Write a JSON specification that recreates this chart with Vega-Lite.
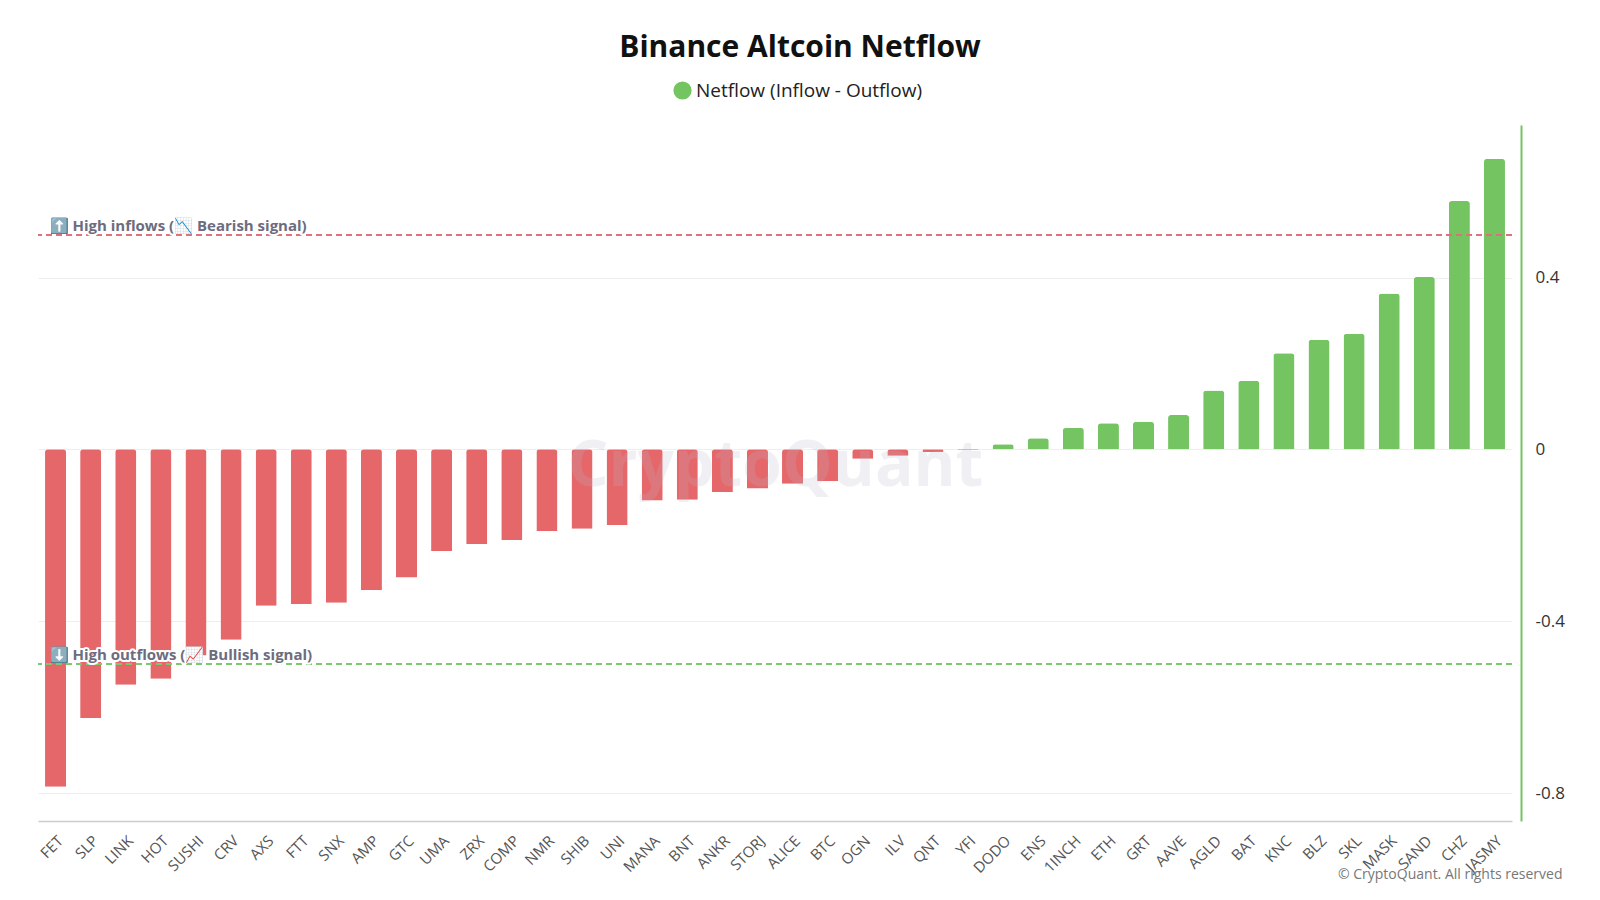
{
  "$schema": "https://vega.github.io/schema/vega-lite/v6.json",
  "autosize": "none",
  "width": 1474,
  "height": 696,
  "padding": {"left": 38, "top": 125, "right": 88, "bottom": 79},
  "background": "white",
  "config": {
    "font": "Open Sans",
    "view": {"stroke": null}
  },
  "title": {
    "text": "Binance Altcoin Netflow",
    "fontSize": 30,
    "fontWeight": "bold",
    "color": "#111111",
    "anchor": "middle",
    "dx": 25,
    "offset": 18
  },
  "data": {
    "values": [
      {"coin": "FET", "netflow": -0.785, "series": "Netflow (Inflow - Outflow)"},
      {"coin": "SLP", "netflow": -0.625, "series": "Netflow (Inflow - Outflow)"},
      {"coin": "LINK", "netflow": -0.548, "series": "Netflow (Inflow - Outflow)"},
      {"coin": "HOT", "netflow": -0.534, "series": "Netflow (Inflow - Outflow)"},
      {"coin": "SUSHI", "netflow": -0.48, "series": "Netflow (Inflow - Outflow)"},
      {"coin": "CRV", "netflow": -0.443, "series": "Netflow (Inflow - Outflow)"},
      {"coin": "AXS", "netflow": -0.364, "series": "Netflow (Inflow - Outflow)"},
      {"coin": "FTT", "netflow": -0.36, "series": "Netflow (Inflow - Outflow)"},
      {"coin": "SNX", "netflow": -0.357, "series": "Netflow (Inflow - Outflow)"},
      {"coin": "AMP", "netflow": -0.328, "series": "Netflow (Inflow - Outflow)"},
      {"coin": "GTC", "netflow": -0.298, "series": "Netflow (Inflow - Outflow)"},
      {"coin": "UMA", "netflow": -0.237, "series": "Netflow (Inflow - Outflow)"},
      {"coin": "ZRX", "netflow": -0.22, "series": "Netflow (Inflow - Outflow)"},
      {"coin": "COMP", "netflow": -0.211, "series": "Netflow (Inflow - Outflow)"},
      {"coin": "NMR", "netflow": -0.19, "series": "Netflow (Inflow - Outflow)"},
      {"coin": "SHIB", "netflow": -0.185, "series": "Netflow (Inflow - Outflow)"},
      {"coin": "UNI", "netflow": -0.176, "series": "Netflow (Inflow - Outflow)"},
      {"coin": "MANA", "netflow": -0.119, "series": "Netflow (Inflow - Outflow)"},
      {"coin": "BNT", "netflow": -0.117, "series": "Netflow (Inflow - Outflow)"},
      {"coin": "ANKR", "netflow": -0.1, "series": "Netflow (Inflow - Outflow)"},
      {"coin": "STORJ", "netflow": -0.091, "series": "Netflow (Inflow - Outflow)"},
      {"coin": "ALICE", "netflow": -0.08, "series": "Netflow (Inflow - Outflow)"},
      {"coin": "BTC", "netflow": -0.074, "series": "Netflow (Inflow - Outflow)"},
      {"coin": "OGN", "netflow": -0.022, "series": "Netflow (Inflow - Outflow)"},
      {"coin": "ILV", "netflow": -0.015, "series": "Netflow (Inflow - Outflow)"},
      {"coin": "QNT", "netflow": -0.006, "series": "Netflow (Inflow - Outflow)"},
      {"coin": "YFI", "netflow": -0.002, "series": "Netflow (Inflow - Outflow)"},
      {"coin": "DODO", "netflow": 0.012, "series": "Netflow (Inflow - Outflow)"},
      {"coin": "ENS", "netflow": 0.026, "series": "Netflow (Inflow - Outflow)"},
      {"coin": "1INCH", "netflow": 0.05, "series": "Netflow (Inflow - Outflow)"},
      {"coin": "ETH", "netflow": 0.061, "series": "Netflow (Inflow - Outflow)"},
      {"coin": "GRT", "netflow": 0.064, "series": "Netflow (Inflow - Outflow)"},
      {"coin": "AAVE", "netflow": 0.08, "series": "Netflow (Inflow - Outflow)"},
      {"coin": "AGLD", "netflow": 0.137, "series": "Netflow (Inflow - Outflow)"},
      {"coin": "BAT", "netflow": 0.16, "series": "Netflow (Inflow - Outflow)"},
      {"coin": "KNC", "netflow": 0.224, "series": "Netflow (Inflow - Outflow)"},
      {"coin": "BLZ", "netflow": 0.255, "series": "Netflow (Inflow - Outflow)"},
      {"coin": "SKL", "netflow": 0.269, "series": "Netflow (Inflow - Outflow)"},
      {"coin": "MASK", "netflow": 0.363, "series": "Netflow (Inflow - Outflow)"},
      {"coin": "SAND", "netflow": 0.401, "series": "Netflow (Inflow - Outflow)"},
      {"coin": "CHZ", "netflow": 0.578, "series": "Netflow (Inflow - Outflow)"},
      {"coin": "JASMY", "netflow": 0.676, "series": "Netflow (Inflow - Outflow)"}
    ]
  },
  "layer": [
    {
      "mark": {"type": "bar", "cornerRadiusEnd": 3},
      "encoding": {
        "x": {
          "field": "coin",
          "type": "nominal",
          "sort": null,
          "scale": {"paddingInner": 0.4, "paddingOuter": 0.2},
          "axis": {
            "title": "© CryptoQuant. All rights reserved",
            "titleFontSize": 14,
            "titleFontWeight": "normal",
            "titleColor": "#777777",
            "titleAnchor": "end",
            "titleAlign": "right",
            "titleX": 1524,
            "titleY": 46,
            "labelAngle": -45,
            "labelFontSize": 15,
            "labelColor": "#555555",
            "labelPadding": 12,
            "ticks": false,
            "domainColor": "#cccccc",
            "domainWidth": 1.5
          }
        },
        "y": {
          "field": "netflow",
          "type": "quantitative",
          "scale": {"domain": [-0.865, 0.755], "nice": false, "zero": false},
          "axis": {
            "orient": "right",
            "title": null,
            "values": [-0.8, -0.4, 0, 0.4],
            "labelExpr": "'' + datum.value",
            "labelFontSize": 17,
            "labelColor": "#333333",
            "labelPadding": 14,
            "ticks": false,
            "offset": 9,
            "domainColor": "#75c462",
            "domainWidth": 2,
            "gridColor": "#eeeeee"
          }
        },
        "color": {
          "condition": {"test": "datum.netflow < 0", "value": "#e5676a"},
          "field": "series",
          "type": "nominal",
          "scale": {"range": ["#75c462"]},
          "legend": {
            "title": null,
            "orient": "none",
            "legendX": 635,
            "legendY": -44,
            "direction": "horizontal",
            "symbolType": "circle",
            "symbolSize": 330,
            "symbolStrokeWidth": 0,
            "labelFontSize": 19,
            "labelLimit": 0,
            "labelColor": "#222222"
          }
        }
      }
    },
    {
      "mark": {"type": "rule", "color": "#e0707c", "strokeDash": [6, 4], "strokeWidth": 1.2},
      "encoding": {"y": {"datum": 0.5}}
    },
    {
      "mark": {"type": "rule", "color": "#7cc86c", "strokeDash": [6, 4], "strokeWidth": 1.2},
      "encoding": {"y": {"datum": -0.5}}
    },
    {
      "data": {"values": [
        {"label": "⬆️ High inflows (📉 Bearish signal)", "level": 0.5},
        {"label": "⬇️ High outflows (📈 Bullish signal)", "level": -0.5}
      ]},
      "mark": {"type": "text", "align": "left", "baseline": "alphabetic", "dx": -6, "dy": -4, "fontSize": 15, "fontWeight": "bold", "stroke": "white", "strokeWidth": 4, "strokeJoin": "round"},
      "encoding": {
        "x": {"datum": "FET"},
        "y": {"field": "level", "type": "quantitative"},
        "text": {"field": "label"}
      }
    },
    {
      "data": {"values": [
        {"label": "⬆️ High inflows (📉 Bearish signal)", "level": 0.5},
        {"label": "⬇️ High outflows (📈 Bullish signal)", "level": -0.5}
      ]},
      "mark": {"type": "text", "align": "left", "baseline": "alphabetic", "dx": -6, "dy": -4, "fontSize": 15, "fontWeight": "bold", "color": "#6c6c7e"},
      "encoding": {
        "x": {"datum": "FET"},
        "y": {"field": "level", "type": "quantitative"},
        "text": {"field": "label"}
      }
    },
    {
      "data": {"values": [{"mark": "CryptoQuant", "pos": -0.04}]},
      "mark": {"type": "text", "align": "center", "baseline": "middle", "dx": -17, "fontSize": 64, "fontWeight": "bold", "color": "#b9b9cc", "opacity": 0.2},
      "encoding": {
        "x": {"datum": "ALICE"},
        "y": {"field": "pos", "type": "quantitative"},
        "text": {"field": "mark"}
      }
    }
  ]
}
